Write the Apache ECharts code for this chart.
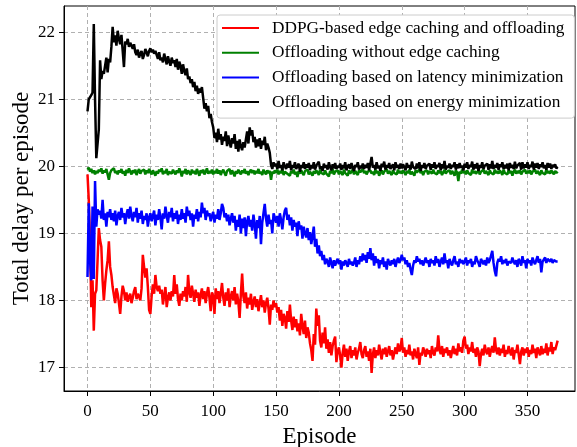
<!DOCTYPE html>
<html>
<head>
<meta charset="utf-8">
<title>Total delay per episode</title>
<script src="https://cdn.jsdelivr.net/npm/echarts@6/dist/echarts.min.js"></script>
<style>
  html, body { margin: 0; padding: 0; background: #fff; }
  #chart { width: 577px; height: 447px; }
</style>
</head>
<body>
<div id="chart"></div>
<script>
// values, one per episode (0..374)
const ddpg = [
  19.88, 19.5, 18.9, 17.9, 18.3, 17.55, 18.1, 18.15, 18.6, 19.08, 18.9, 18.8, 18.3, 18.0, 18.25, 18.45, 18.6, 18.88, 18.5, 18.38, 18.2, 18.08, 17.96, 18.18, 18.1,
  17.96, 17.8, 18.06, 18.22, 18.14, 18.0, 18.12, 17.98, 18.06, 18.1, 17.96, 18.04, 18.14, 18.2, 18.02, 18.1, 18.06, 18.0, 18.18, 18.68, 18.5, 18.34, 18.48, 18.2, 17.86,
  17.8, 18.06, 18.24, 18.1, 18.38, 18.2, 18.14, 18.22, 18.1, 18.16, 17.94, 18.08, 18.2, 17.9, 18.04, 18.12, 18.0, 18.14, 18.06, 18.38, 18.1, 18.24, 18.02, 17.92, 18.1,
  18.0, 18.14, 18.06, 18.2, 17.98, 18.38, 18.12, 18.04, 18.22, 18.1, 17.98, 18.16, 18.04, 18.12, 17.92, 18.08, 18.18, 18.02, 18.14, 17.96, 18.1, 18.2, 18.04, 17.84, 18.12,
  18.06, 17.8, 18.18, 18.02, 18.14, 17.96, 18.1, 18.26, 18.04, 17.92, 18.12, 18.0, 18.18, 17.9, 18.06, 18.14, 18.0, 18.2, 17.94, 18.1, 17.98, 17.74, 18.1, 18.4, 18.06,
  17.96, 18.12, 17.88, 18.04, 17.94, 18.1, 17.86, 17.98, 18.06, 17.9, 18.02, 17.84, 17.96, 18.08, 17.9, 18.0, 17.82, 17.96, 18.04, 17.88, 17.64, 17.94, 17.86, 18.0, 17.9,
  17.96, 17.82, 17.9, 17.7, 17.86, 17.62, 17.8, 17.74, 17.58, 17.84, 17.68, 17.94, 17.7, 17.56, 17.76, 17.6, 17.72, 17.54, 17.66, 17.48, 17.8, 17.62, 17.5, 17.7, 17.44,
  17.6, 17.52, 17.36, 17.26, 17.1, 17.5, 17.34, 17.88, 17.62, 17.78, 17.4, 17.3, 17.52, 17.36, 17.6, 17.28, 17.42, 17.22, 17.38, 17.18, 17.32, 17.4, 17.46, 17.08, 17.24,
  17.3, 17.18, 17.0, 17.22, 17.34, 17.16, 17.28, 17.1, 17.24, 17.32, 17.14, 17.26, 17.18, 17.3, 17.12, 17.22, 17.28, 17.38, 17.2, 17.14, 17.26, 17.32, 17.16, 17.24, 17.1,
  17.28, 16.92, 17.2, 17.3, 17.14, 17.26, 17.18, 17.34, 17.22, 17.12, 17.28, 17.2, 17.3, 17.16, 17.24, 17.32, 17.18, 17.26, 17.12, 17.22, 17.3, 17.2, 17.36, 17.24, 17.28,
  17.44, 17.22, 17.3, 17.16, 17.26, 17.2, 17.34, 17.18, 17.24, 17.12, 17.28, 17.2, 17.14, 17.3, 17.04, 17.22, 17.18, 17.3, 17.24, 17.16, 17.28, 17.2, 17.26, 17.14, 17.32,
  17.22, 17.18, 17.3, 17.24, 17.48, 17.26, 17.2, 17.32, 17.16, 17.28, 17.22, 17.3, 17.18, 17.26, 17.14, 17.24, 17.32, 17.2, 17.28, 17.18, 17.36, 17.24, 17.3, 17.22, 17.4,
  17.46, 17.28, 17.34, 17.2, 17.3, 17.24, 17.38, 17.22, 17.28, 17.16, 17.3, 17.24, 17.02, 17.2, 17.28, 17.18, 17.34, 17.24, 17.2, 17.3, 17.16, 17.26, 17.32, 17.22, 17.45,
  17.26, 17.2, 17.3, 17.18, 17.28, 17.22, 17.34, 17.16, 17.26, 17.2, 17.32, 17.24, 17.18, 17.3, 17.12, 17.26, 17.22, 17.34, 17.2, 17.05, 17.24, 17.3, 17.18, 17.28, 17.22,
  17.3, 17.16, 17.26, 17.2, 17.34, 17.22, 17.28, 17.14, 17.3, 17.24, 17.18, 17.32, 17.2, 17.28, 17.22, 17.36, 17.18, 17.3, 17.24, 17.38, 17.2, 17.3, 17.26, 17.28, 17.4
]

const noCaching = [
  19.95, 19.98, 19.92, 19.96, 19.9, 19.94, 19.88, 19.93, 19.9, 19.95, 19.92, 19.97, 19.89, 19.94, 19.91, 19.96, 19.88, 19.8, 19.9, 19.94, 19.92, 19.97, 19.9, 19.93, 19.88,
  19.94, 19.91, 19.96, 19.89, 19.93, 19.86, 19.95, 19.9, 19.97, 19.92, 19.88, 19.94, 19.9, 19.95, 19.87, 19.92, 19.96, 19.89, 19.93, 19.91, 19.95, 19.88, 19.94, 19.9, 19.96,
  19.91, 19.88, 19.94, 19.9, 19.86, 19.93, 19.89, 19.95, 19.92, 19.97, 19.88, 19.93, 19.9, 19.96, 19.87, 19.92, 19.94, 19.89, 19.95, 19.91, 19.88, 19.94, 19.9, 19.97, 19.92,
  19.85, 19.93, 19.9, 19.96, 19.88, 19.94, 19.91, 19.87, 19.95, 19.9, 19.93, 19.88, 19.96, 19.91, 19.86, 19.94, 19.9, 19.95, 19.88, 19.92, 19.97, 19.89, 19.93, 19.9, 19.95,
  19.88, 19.93, 19.9, 19.96, 19.89, 19.94, 19.87, 19.92, 19.95, 19.9, 19.86, 19.93, 19.91, 19.96, 19.88, 19.94, 19.9, 19.85, 19.93, 19.89, 19.95, 19.91, 19.88, 19.94, 19.9,
  19.96, 19.89, 19.93, 19.87, 19.92, 19.95, 19.9, 19.94, 19.88, 19.93, 19.9, 19.96, 19.89, 19.92, 19.87, 19.95, 19.91, 19.88, 19.94, 19.9, 19.93, 19.8, 19.92, 19.89, 19.94,
  19.9, 19.95, 19.88, 19.93, 19.9, 19.96, 19.87, 19.92, 19.94, 19.89, 19.91, 19.86, 19.93, 19.9, 19.95, 19.88, 19.92, 19.84, 19.93, 19.89, 19.94, 19.9, 19.87, 19.93, 19.91,
  19.95, 19.88, 19.92, 19.9, 19.86, 19.93, 19.89, 19.94, 19.91, 19.87, 19.95, 19.9, 19.92, 19.88, 19.94, 19.89, 19.91, 19.85, 19.93, 19.9, 19.96, 19.88, 19.92, 19.9, 19.94,
  19.88, 19.93, 19.91, 19.87, 19.95, 19.9, 19.92, 19.86, 19.94, 19.89, 19.91, 19.95, 19.88, 19.93, 19.9, 19.87, 19.94, 19.91, 19.89, 19.96, 19.9, 19.93, 19.88, 19.92, 19.9,
  19.94, 19.89, 19.92, 19.87, 19.95, 19.9, 19.93, 19.86, 19.91, 19.94, 19.88, 19.92, 19.9, 19.96, 19.89, 19.93, 19.91, 19.87, 19.94, 19.9, 19.92, 19.88, 19.95, 19.9, 19.93,
  19.89, 19.94, 19.91, 19.87, 19.93, 19.9, 19.95, 19.88, 19.92, 19.9, 19.86, 19.94, 19.91, 19.89, 19.95, 19.9, 19.93, 19.87, 19.92, 19.9, 19.94, 19.88, 19.93, 19.91, 19.89,
  19.95, 19.9, 19.92, 19.88, 19.94, 19.9, 19.93, 19.87, 19.91, 19.95, 19.89, 19.92, 19.9, 19.94, 19.88, 19.93, 19.9, 19.86, 19.94, 19.91, 19.78, 19.92, 19.89, 19.95, 19.9,
  19.93, 19.88, 19.94, 19.9, 19.92, 19.87, 19.95, 19.9, 19.93, 19.89, 19.91, 19.94, 19.88, 19.92, 19.9, 19.95, 19.89, 19.93, 19.91, 19.87, 19.94, 19.9, 19.92, 19.88, 19.95,
  19.9, 19.93, 19.89, 19.94, 19.91, 19.87, 19.95, 19.9, 19.92, 19.88, 19.94, 19.9, 19.93, 19.86, 19.92, 19.95, 19.89, 19.93, 19.9, 19.94, 19.88, 19.92, 19.91, 19.95, 19.89,
  19.93, 19.9, 19.94, 19.88, 19.92, 19.9, 19.95, 19.89, 19.93, 19.91, 19.87, 19.94, 19.9, 19.92, 19.88, 19.95, 19.9, 19.93, 19.89, 19.94, 19.91, 19.88, 19.93, 19.9, 19.92
]

const latencyMin = [
  18.35, 19.45, 18.6, 18.3, 19.4, 18.32, 19.78, 19.1, 19.36, 19.28, 19.34, 19.22, 19.5, 19.2, 19.3, 19.1, 19.32, 19.24, 19.36, 19.2, 19.3, 19.18, 19.34, 19.12, 19.26,
  19.32, 19.2, 19.38, 19.24, 19.3, 19.14, 19.28, 19.36, 19.22, 19.4, 19.26, 19.18, 19.32, 19.24, 19.38, 19.16, 19.3, 19.22, 19.34, 19.14, 19.26, 19.2, 19.3, 19.1, 19.24,
  19.3, 19.18, 19.26, 19.34, 19.12, 19.28, 19.2, 19.36, 19.24, 19.06, 19.3, 19.22, 19.4, 19.26, 19.16, 19.32, 19.24, 19.38, 19.18, 19.3, 19.22, 19.34, 19.14, 19.28, 19.2,
  19.36, 19.22, 19.3, 19.16, 19.4, 19.26, 19.34, 19.2, 19.3, 19.1, 19.28, 19.22, 19.36, 19.18, 19.32, 19.24, 19.46, 19.3, 19.38, 19.2, 19.34, 19.26, 19.3, 19.18, 19.26,
  19.32, 19.16, 19.28, 19.22, 19.36, 19.2, 19.3, 19.44, 19.38, 19.24, 19.3, 19.18, 19.28, 19.12, 19.22, 19.3, 19.16, 19.26, 19.04, 19.2, 19.1, 19.28, 19.0, 19.22, 19.08,
  19.24, 18.96, 19.18, 19.26, 19.1, 19.2, 19.04, 19.28, 19.14, 18.92, 19.2, 19.08, 19.26, 18.84, 19.16, 19.3, 19.44, 19.22, 19.1, 19.28, 19.14, 19.2, 19.0, 19.3, 19.24,
  19.16, 19.26, 19.1, 19.3, 19.2, 19.06, 19.24, 19.34, 19.38, 19.2, 19.28, 19.12, 19.24, 19.04, 19.2, 19.1, 19.16, 18.96, 19.18, 19.06, 19.12, 18.92, 19.1, 19.0, 18.94,
  19.08, 18.9, 19.02, 18.84, 18.96, 19.1, 18.8, 18.92, 18.7, 18.82, 18.66, 18.74, 18.6, 18.68, 18.54, 18.62, 18.58, 18.5, 18.64, 18.56, 18.48, 18.6, 18.52, 18.58, 18.62,
  18.54, 18.6, 18.46, 18.58, 18.52, 18.6, 18.56, 18.5, 18.62, 18.54, 18.58, 18.52, 18.56, 18.64, 18.5, 18.6, 18.54, 18.66, 18.58, 18.7, 18.6, 18.68, 18.56, 18.72, 18.62,
  18.78, 18.6, 18.7, 18.52, 18.66, 18.56, 18.62, 18.48, 18.6, 18.54, 18.64, 18.5, 18.58, 18.46, 18.62, 18.56, 18.52, 18.6, 18.54, 18.62, 18.5, 18.58, 18.64, 18.56, 18.6,
  18.68, 18.6, 18.64, 18.54, 18.6, 18.5, 18.56, 18.46, 18.38, 18.52, 18.6, 18.56, 18.66, 18.58, 18.62, 18.54, 18.6, 18.52, 18.58, 18.64, 18.56, 18.6, 18.5, 18.62, 18.56,
  18.6, 18.52, 18.66, 18.56, 18.62, 18.5, 18.58, 18.64, 18.54, 18.7, 18.56, 18.6, 18.48, 18.62, 18.56, 18.52, 18.6, 18.66, 18.54, 18.58, 18.5, 18.62, 18.56, 18.6, 18.54,
  18.58, 18.64, 18.52, 18.6, 18.56, 18.62, 18.5, 18.58, 18.54, 18.66, 18.6, 18.56, 18.5, 18.62, 18.58, 18.54, 18.6, 18.52, 18.64, 18.56, 18.6, 18.58, 18.74, 18.56, 18.44,
  18.36, 18.56, 18.62, 18.58, 18.66, 18.54, 18.6, 18.56, 18.62, 18.52, 18.58, 18.6, 18.56, 18.64, 18.58, 18.54, 18.6, 18.5, 18.62, 18.58, 18.52, 18.66, 18.56, 18.6, 18.48,
  18.62, 18.56, 18.6, 18.52, 18.64, 18.58, 18.54, 18.6, 18.66, 18.56, 18.62, 18.42, 18.58, 18.6, 18.64, 18.56, 18.62, 18.6, 18.58, 18.62, 18.56, 18.6, 18.62, 18.58, 18.58
]

const energyMin = [
  20.82, 21.0, 21.02, 21.06, 21.1, 22.12, 21.0, 20.12, 20.1, 20.55, 21.58, 21.3, 21.42, 21.38, 21.5, 21.62, 21.4, 21.6, 21.55, 21.78, 22.08, 21.85, 21.95, 21.8, 22.02,
  21.9, 21.82, 21.96, 21.72, 21.48, 21.86, 21.82, 21.9, 21.78, 21.84, 21.8, 21.75, 21.82, 21.7, 21.66, 21.74, 21.62, 21.68, 21.72, 21.6, 21.66, 21.75, 21.7, 21.64, 21.72,
  21.76, 21.7, 21.74, 21.68, 21.72, 21.66, 21.6, 21.7, 21.58, 21.62, 21.55, 21.68, 21.6, 21.52, 21.64, 21.56, 21.5, 21.62, 21.54, 21.58, 21.48, 21.6, 21.44, 21.56, 21.5,
  21.38, 21.52, 21.42, 21.36, 21.46, 21.3, 21.34, 21.24, 21.3, 21.18, 21.26, 21.12, 21.2, 21.08, 21.16, 21.1, 21.18, 21.02, 20.86, 20.94, 20.82, 20.9, 20.72, 20.78, 20.66,
  20.58, 20.42, 20.5, 20.36, 20.56, 20.4, 20.48, 20.32, 20.44, 20.38, 20.52, 20.3, 20.46, 20.36, 20.28, 20.42, 20.34, 20.48, 20.26, 20.38, 20.22, 20.4, 20.3, 20.24, 20.36,
  20.28, 20.4, 20.52, 20.34, 20.58, 20.46, 20.54, 20.36, 20.44, 20.28, 20.4, 20.3, 20.42, 20.26, 20.38, 20.32, 20.44, 20.24, 20.34, 20.28, 20.2, 20.02, 19.96, 20.06, 20.0,
  20.04, 19.96, 20.08, 19.98, 20.02, 19.94, 20.06, 20.0, 19.96, 20.04, 19.98, 20.08, 19.94, 20.02, 19.98, 20.06, 19.96, 20.0, 20.04, 19.92, 20.02, 19.98, 20.06, 19.96, 20.03,
  19.98, 20.05, 19.94, 20.02, 19.97, 20.06, 19.95, 20.01, 19.99, 20.07, 19.96, 20.0, 19.93, 20.04, 19.98, 20.02, 19.95, 20.06, 19.99, 19.94, 20.03, 19.97, 20.05, 19.96, 20.01,
  19.98, 20.04, 19.95, 20.02, 19.97, 20.06, 19.94, 20.0, 20.03, 19.96, 20.05, 19.98, 19.93, 20.02, 19.99, 20.06, 19.95, 20.01, 19.97, 20.04, 19.96, 20.02, 19.98, 20.05, 19.94,
  20.04, 20.14, 19.98, 20.02, 19.95, 20.06, 19.97, 20.01, 19.93, 20.04, 19.99, 20.07, 19.95, 20.02, 19.98, 20.05, 19.96, 20.0, 20.03, 19.94, 20.06, 19.98, 20.02, 19.96, 20.04,
  19.97, 20.03, 19.99, 19.94, 20.05, 19.98, 20.02, 19.95, 20.07, 19.99, 20.01, 19.96, 20.04, 19.97, 20.06, 19.93, 20.02, 19.98, 20.05, 19.96, 20.01, 19.99, 20.04, 19.95, 20.03,
  19.98, 20.06, 19.96, 20.02, 19.99, 20.05, 19.94, 20.03, 19.97, 20.08, 19.95, 20.01, 19.98, 20.04, 19.96, 20.02, 19.99, 20.06, 19.95, 20.03, 19.97, 20.05, 19.98, 20.01, 19.94,
  20.04, 19.98, 20.06, 19.96, 20.02, 19.99, 20.07, 19.95, 20.03, 19.97, 20.05, 19.93, 20.02, 19.98, 20.06, 19.96, 20.01, 19.99, 20.04, 19.95, 20.03, 19.97, 20.08, 19.96, 20.02,
  19.98, 20.05, 19.95, 20.03, 19.99, 20.06, 19.96, 20.02, 19.97, 20.04, 19.94, 20.05, 19.98, 20.02, 19.96, 20.07, 19.97, 20.01, 19.99, 20.05, 19.95, 20.06, 19.97, 20.03, 19.98,
  20.06, 19.96, 20.02, 19.99, 20.07, 19.95, 20.04, 19.98, 20.05, 19.96, 20.03, 19.99, 20.06, 19.97, 20.02, 19.95, 20.05, 19.98, 20.04, 19.96, 20.02, 19.99, 20.03, 19.97, 19.99
]

const seriesNames = [
  'DDPG-based edge caching and offloading',
  'Offloading without edge caching',
  'Offloading based on latency minimization',
  'Offloading based on energy minimization'
]
const seriesColors = ['#ff0000', '#008000', '#0000ff', '#000000']
const xTicks = [0, 50, 100, 150, 200, 250, 300, 350]
const yTicks = [17, 18, 19, 20, 21, 22]

const font = 'Liberation Serif'
const chart = echarts.init(document.getElementById('chart'))

function toPoints(values) {
  return values.map((v, i) => [i, v])
}

const gridLine = { show: true, lineStyle: { color: '#b0b0b0', type: [4, 3], width: 1 } }

chart.setOption({
  animation: false,
  backgroundColor: '#fff',
  grid: {
    left: 64, right: 2, top: 6, bottom: 56,
    outerBoundsMode: 'none',
    show: true, borderColor: '#000', borderWidth: 1
  },
  legend: {
    orient: 'vertical',
    left: 217,
    top: 15,
    padding: [3, 10, 6, 5],
    icon: 'rect',
    itemWidth: 37,
    itemHeight: 2,
    itemGap: 4.7,
    backgroundColor: '#fff',
    borderColor: '#cccccc',
    borderWidth: 1,
    borderRadius: 3,
    textStyle: { fontFamily: font, fontSize: 17.3, color: '#000', lineHeight: 20, padding: [0, 0, 0, 8] },
    data: seriesNames
  },
  xAxis: {
    type: 'value',
    min: -18.7,
    max: 387.8,
    name: 'Episode',
    nameLocation: 'middle',
    nameGap: 34,
    nameMoveOverlap: false,
    nameTextStyle: { fontFamily: font, fontSize: 23, color: '#000' },
    axisLine: { onZero: false, lineStyle: { color: '#000', width: 1 } },
    axisTick: { show: true, inside: false, length: 5, customValues: xTicks, lineStyle: { color: '#000' } },
    axisLabel: { customValues: xTicks, margin: 12, fontFamily: font, fontSize: 17, color: '#000' },
    splitLine: gridLine
  },
  yAxis: {
    type: 'value',
    min: 16.65,
    max: 22.39,
    name: 'Total delay per episode',
    nameLocation: 'middle',
    nameGap: 31,
    nameMoveOverlap: false,
    nameTextStyle: { fontFamily: font, fontSize: 23, color: '#000' },
    axisLine: { show: true, onZero: false, lineStyle: { color: '#000', width: 1 } },
    axisTick: { show: true, inside: false, length: 5, customValues: yTicks, lineStyle: { color: '#000' } },
    axisLabel: { customValues: yTicks, margin: 9, fontFamily: font, fontSize: 17, color: '#000' },
    splitLine: gridLine
  },
  series: [ddpg, noCaching, latencyMin, energyMin].map((values, k) => ({
    name: seriesNames[k],
    type: 'line',
    data: toPoints(values),
    symbol: 'none',
    color: seriesColors[k],
    lineStyle: { width: 2.5, color: seriesColors[k] }
  }))
})
</script>
</body>
</html>
